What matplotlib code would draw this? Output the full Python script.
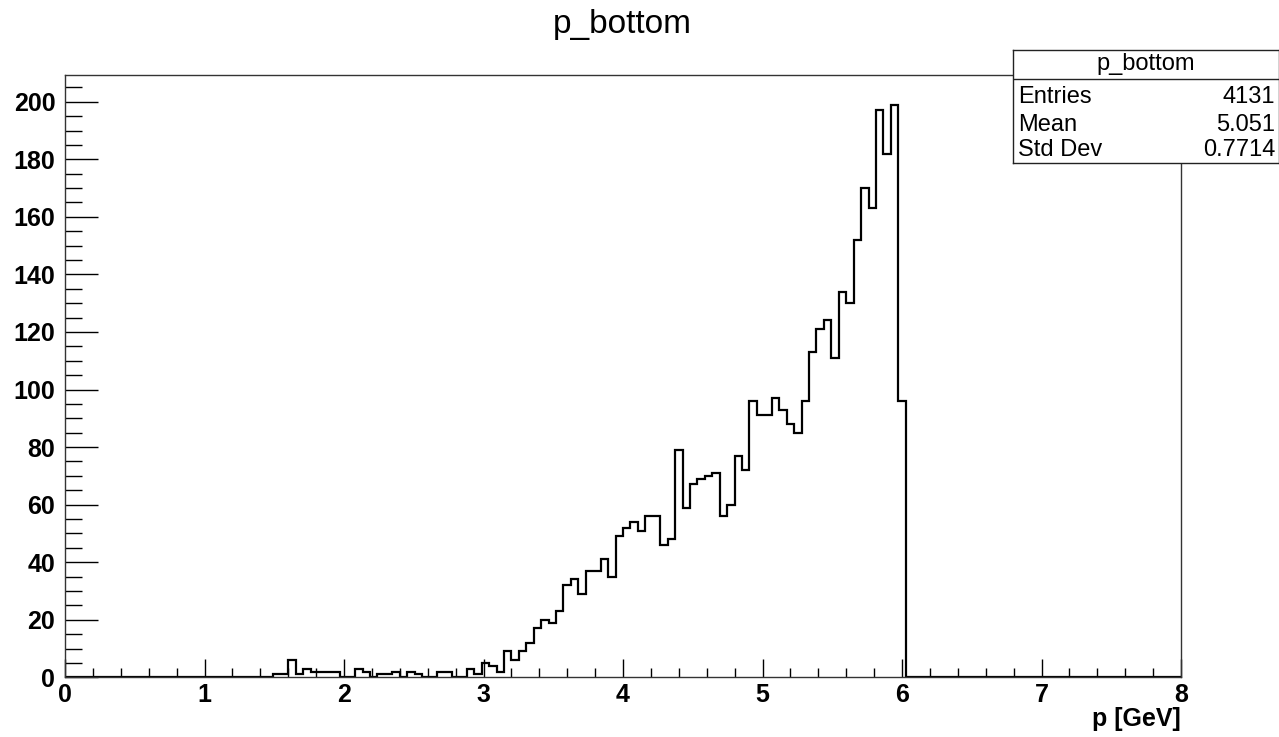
import numpy as np
import matplotlib.pyplot as plt
from matplotlib.ticker import MultipleLocator

plt.rcParams['font.family'] = ['Liberation Sans', 'DejaVu Sans']

# histogram: 150 bins from 0 to 8 GeV
x_min, x_max, n_bins = 0.0, 8.0, 150
low_bins = [0] * 28
counts_mid = [1, 1, 6, 1, 3, 2, 2, 2, 2, 0, 0, 3, 2, 0, 1, 1, 2, 0, 2, 1,
              0, 0, 2, 2, 0, 0, 3, 1, 5, 4, 2,
              9, 6, 9, 12, 17, 20, 19, 23, 32, 34, 29, 37, 37, 41, 35, 49,
              52, 54, 51, 56, 56, 46, 48, 79,
              59, 67, 69, 70, 71, 56, 60, 77, 72, 96, 91, 91, 97, 93, 88, 85, 96,
              113, 121, 124, 111, 134, 130, 152, 170, 163, 197, 182, 199, 96]
counts = np.array(low_bins + counts_mid + [0] * (n_bins - 28 - len(counts_mid)))
edges = np.linspace(x_min, x_max, n_bins + 1)

title = "p_bottom"
stats_names = ["Entries", "Mean", "Std Dev"]
stats_values = ["4131", "5.051", "0.7714"]

W, H = 1279, 737
fig = plt.figure(figsize=(W / 100, H / 100), dpi=100)
ax = fig.add_axes([65 / W, 1 - 677.3 / H, 1116 / W, 602.3 / H])

ax.stairs(counts, edges, color='black', linewidth=1.6, baseline=0)

ax.set_xlim(x_min, x_max)
ax.set_ylim(0, 209.3)

ax.xaxis.set_major_locator(MultipleLocator(1))
ax.xaxis.set_minor_locator(MultipleLocator(0.2))
ax.yaxis.set_major_locator(MultipleLocator(20))
ax.yaxis.set_minor_locator(MultipleLocator(5))
ax.tick_params(axis='x', which='major', direction='in', length=13, width=1, pad=4)
ax.tick_params(axis='x', which='minor', direction='in', length=6.5, width=1)
ax.tick_params(axis='y', which='major', direction='in', length=24, width=1, pad=7)
ax.tick_params(axis='y', which='minor', direction='in', length=12, width=1)
ax.tick_params(labelsize=18)
for lab in ax.get_xticklabels() + ax.get_yticklabels():
    lab.set_fontweight('bold')
for s in ax.spines.values():
    s.set_linewidth(1)
    s.set_color('#333333')

fig.text(622 / W, 1 - 24 / H, title, ha='center', va='center', fontsize=24)
fig.text(1181 / W, 1 - 719 / H, "p [GeV]", ha='right', va='center',
         fontsize=18, fontweight='bold')

# stats box
box = fig.add_axes([1013 / W, 1 - 163 / H, 265.5 / W, 113 / H])
box.set_xlim(0, 265.5)
box.set_ylim(163, 50)
box.set_xticks([])
box.set_yticks([])
box.set_facecolor('white')
for s in box.spines.values():
    s.set_linewidth(1)
    s.set_color('#222222')
box.axhline(79, color='#222222', linewidth=1)
box.text(133, 64, title, ha='center', va='center', fontsize=17)
for name, val, yy in zip(stats_names, stats_values, [97, 125, 150]):
    box.text(5, yy, name, ha='left', va='center', fontsize=17)
    box.text(262, yy, val, ha='right', va='center', fontsize=17)

fig.savefig("out.png", dpi=100)
